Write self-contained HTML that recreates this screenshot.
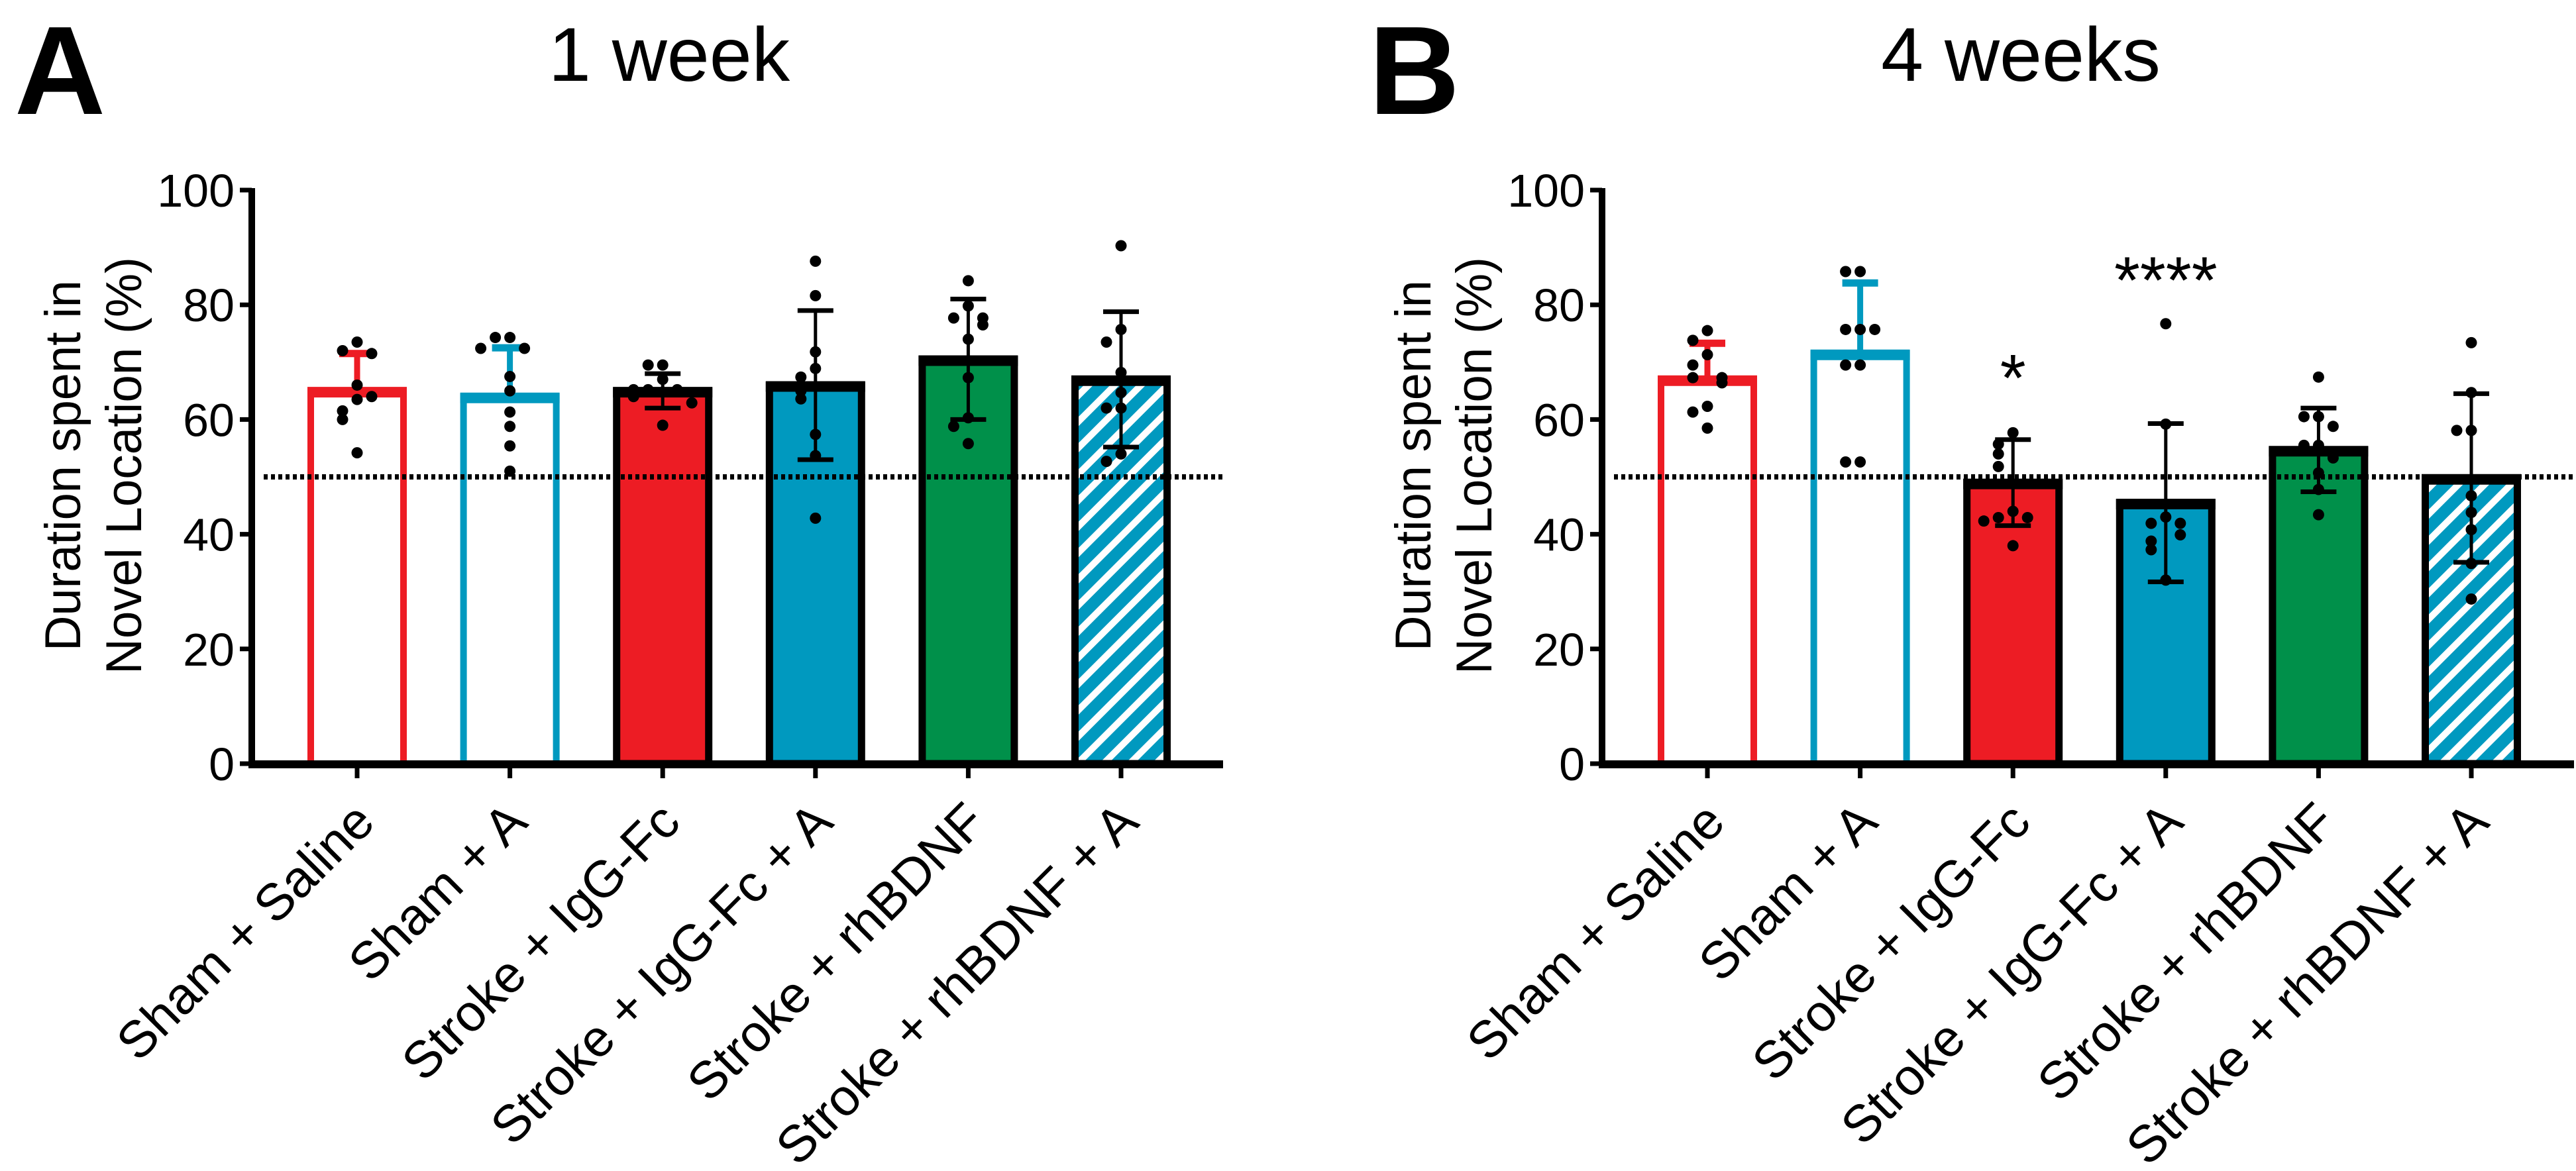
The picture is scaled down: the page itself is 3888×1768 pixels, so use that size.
<!DOCTYPE html>
<html><head><meta charset="utf-8"><style>
html,body{margin:0;padding:0;background:#fff;}
svg{display:block;font-family:"Liberation Sans",Arial,sans-serif;}
</style></head><body>
<svg id="chart" width="3888" height="1768" viewBox="0 0 3888 1768" xmlns="http://www.w3.org/2000/svg">
<defs>
<pattern id="hatch" patternUnits="userSpaceOnUse" width="28" height="28" patternTransform="rotate(45)">
<rect width="28" height="28" fill="#0099BF"/>
<rect x="0" y="0" width="10" height="28" fill="#fff"/>
</pattern>
</defs>
<text x="22" y="172" font-size="190" font-weight="bold">A</text>
<text x="1010" y="122" font-size="115" text-anchor="middle">1 week</text>
<text x="2066" y="172" font-size="190" font-weight="bold">B</text>
<text x="3050" y="122" font-size="115" text-anchor="middle">4 weeks</text>
<g id="panelA"></g>
<g id="panelB"></g>
</svg>
<script>
const categories = ["Sham + Saline","Sham + A","Stroke + IgG-Fc","Stroke + IgG-Fc + A","Stroke + rhBDNF","Stroke + rhBDNF + A"];
const yTicks = [0,20,40,60,80,100];
const meansA = [65,64,65,66,70.5,67];
const errA = [6.5,8.5,3,13,10.5,11.8];
const pointsA = [
 [73.5,72,71.5,66,63.5,64,61.5,60,54.2],
 [74.3,74.3,72.4,72.4,67.5,65,61.3,58.8,55.4,51],
 [69.5,69.5,67,65.2,65.2,65.2,64,62.9,59],
 [87.6,81.6,71.8,68.9,67.4,65,63.6,57.4,53.7,42.8],
 [84.2,79.8,77.7,77.7,76.5,74,67.3,60.3,58.8,55.8],
 [90.3,75.7,73.5,68.2,64.7,62,62,54,52.7]
];
const meansB = [67,71.5,49,45.5,54.7,49.8];
const errB = [6.3,12.3,7.5,13.8,7.3,14.7];
const pointsB = [
 [75.5,73.8,71.3,69.5,67.3,67.3,66.4,62.3,61.3,58.5],
 [85.8,85.8,75.7,75.7,75.7,69.5,69.5,52.6,52.6],
 [57.7,55.7,54,51.8,44,42.9,42.9,42.3,38],
 [76.7,59.2,43,41.9,41.9,39.9,38.8,37.3,32],
 [67.4,60.5,60.5,58.8,55.5,55.5,53.3,50.7,47.8,43.4],
 [73.4,64.7,58.1,58.1,46.7,43.8,40.8,34.9,28.7]
];
const sigB = ["","","*","****","",""];
const sigValueB = [0,0,70,87,0,0];
const chanceLevel = 50;

const NS="http://www.w3.org/2000/svg";
function mk(parent,tag,attrs){const e=document.createElementNS(NS,tag);for(const k in attrs)e.setAttribute(k,attrs[k]);parent.appendChild(e);return e;}
const styles=[
 {fill:"#fff",stroke:"#ED1C24",open:true},
 {fill:"#fff",stroke:"#0099BF",open:true},
 {fill:"#ED1C24",stroke:"#000",open:false},
 {fill:"#0099BF",stroke:"#000",open:false},
 {fill:"#00904A",stroke:"#000",open:false},
 {fill:"url(#hatch)",stroke:"#000",open:false}
];
function drawPanel(g,axisX,x0,step,xEnd,means,errs,points,sig,sigVal){
 const y0=1153,y100=287;
 const Y=v=>y0-(v/100)*(y0-y100);
 const X=i=>x0+i*step;
 const bw=150;
 let t=mk(g,'text',{transform:`translate(${axisX-259},703) rotate(-90)`,'font-size':76,'text-anchor':'middle',textLength:560,lengthAdjust:'spacingAndGlyphs'});
 
 
 t.textContent='Duration spent in';
 t=mk(g,'text',{transform:`translate(${axisX-167},703) rotate(-90)`,'font-size':76,'text-anchor':'middle',textLength:630,lengthAdjust:'spacingAndGlyphs'});
 
 
 t.textContent='Novel Location (%)';
 yTicks.forEach(v=>{
  const tk=mk(g,'line',{x1:axisX-18,x2:axisX,y1:Y(v),y2:Y(v),stroke:'#000','stroke-width':7});
  
  
  const lb=mk(g,'text',{x:axisX-26,y:Y(v)+25,'font-size':70,'text-anchor':'end'});
  
  
  lb.textContent=v;
 });
 means.forEach((m,i)=>{
  const s=styles[i],cx=X(i);
  const sw=s.open?10:11;
  const r=mk(g,'rect',{x:cx-bw/2+sw/2,y:Y(m),width:bw-sw,height:Y(0)-Y(m),fill:s.fill,stroke:s.stroke,'stroke-width':sw});
  
  
  const mline=mk(g,'line',{x1:cx-bw/2,x2:cx+bw/2,y1:Y(m)+2,y2:Y(m)+2,stroke:s.stroke,'stroke-width':16});
  
  
 });
 const dl=mk(g,'line',{x1:axisX+18,x2:xEnd,y1:Y(chanceLevel),y2:Y(chanceLevel),stroke:'#000','stroke-width':8,'stroke-dasharray':'6 5'});
 
 
 means.forEach((m,i)=>{
  const s=styles[i],cx=X(i);
  const ec=s.open?s.stroke:'#000';
  const ew=s.open?9:5;
  const top=Y(m+errs[i]),bot=s.open?Y(m):Y(m-errs[i]);
  const el=mk(g,'line',{x1:cx,x2:cx,y1:top,y2:bot,stroke:ec,'stroke-width':ew});
  
  
  const cap=mk(g,'line',{x1:cx-27,x2:cx+27,y1:top,y2:top,stroke:ec,'stroke-width':s.open?11:7});
  
  
  if(!s.open){
   const c2=mk(g,'line',{x1:cx-27,x2:cx+27,y1:bot,y2:bot,stroke:ec,'stroke-width':7});
   
   
  }
  const used=[];
  points[i].forEach(v=>{
   const near=used.filter(u=>Math.abs(u-v)<2.5).length;
   used.push(v);
   const off=near===0?0:(near%2?-22:22)*Math.ceil(near/2);
   const d=mk(g,'circle',{cx:cx+off,cy:Y(v),r:8.5,fill:'#000'});
   
   
  });
  if(sig && sig[i]){
   const st=mk(g,'text',{x:cx,y:Y(sigVal[i])+58,'font-size':100,'text-anchor':'middle'});
   
   
   st.textContent=sig[i];
  }
  const xt=mk(g,'line',{x1:cx,x2:cx,y1:y0,y2:y0+22,stroke:'#000','stroke-width':7});
  
  
  const xl=mk(g,'text',{transform:`translate(${cx+30},${y0+92}) rotate(-45)`,'font-size':78,'text-anchor':'end'});
  
  
  xl.textContent=categories[i];
 });
 const ya=mk(g,'line',{x1:axisX,x2:axisX,y1:y100-3,y2:y0+6,stroke:'#000','stroke-width':10});
 
 
 const xa=mk(g,'line',{x1:axisX-5,x2:xEnd,y1:y0+1,y2:y0+1,stroke:'#000','stroke-width':12});
 
 
}
drawPanel(document.getElementById('panelA'),380,539,230.6,1846,meansA,errA,pointsA,null,null);
drawPanel(document.getElementById('panelB'),2418,2577,230.6,3885,meansB,errB,pointsB,sigB,sigValueB);
</script>
</body></html>
